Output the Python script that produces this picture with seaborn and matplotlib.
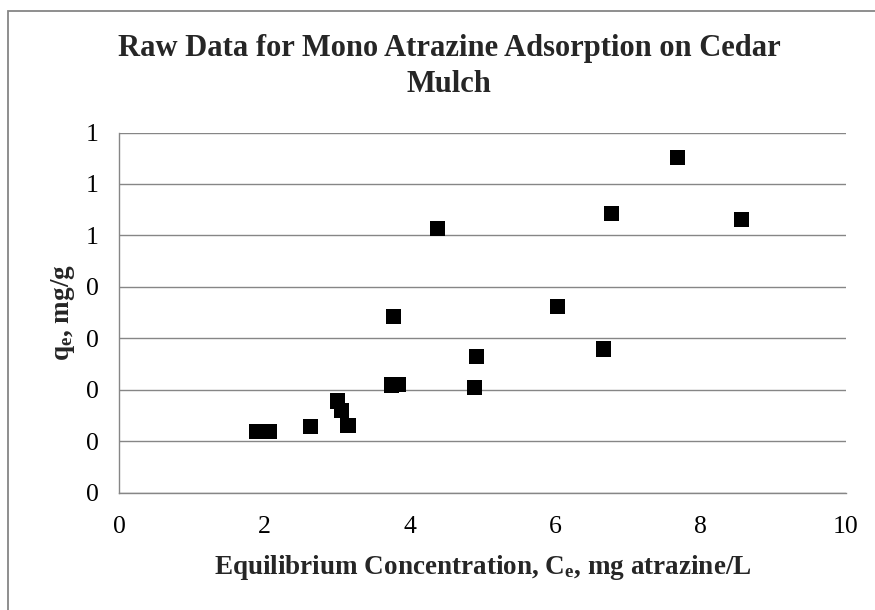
import numpy as np
import pandas as pd
import matplotlib
matplotlib.use('Agg')
import matplotlib.pyplot as plt
import seaborn as sns
from matplotlib.patches import Rectangle

# data
ce = [1.89, 2.07, 2.64, 3.00, 3.06, 3.15, 3.75, 3.84, 3.77, 4.38,
      4.89, 4.92, 6.03, 6.67, 6.78, 7.68, 8.56]
qe = [0.119, 0.118, 0.128, 0.178, 0.159, 0.130, 0.209, 0.210, 0.343, 0.514,
      0.205, 0.264, 0.361, 0.279, 0.543, 0.652, 0.531]
xticks = [0, 2, 4, 6, 8, 10]
yticks = [0.0, 0.1, 0.2, 0.3, 0.4, 0.5, 0.6, 0.7]
ytick_labels = ['0', '0', '0', '0', '0', '1', '1', '1']

df = pd.DataFrame({'Ce': ce, 'qe': qe})

sns.set_theme(style='white')
plt.rcParams['font.family'] = ['Liberation Serif', 'DejaVu Serif']
plt.rcParams['mathtext.default'] = 'regular'

grid_col = '#868686'

fig = plt.figure(figsize=(8.75, 6.1), dpi=100)
ax = fig.add_axes([119/875, 1 - 492.5/610, (846 - 119)/875, (492.5 - 132.5)/610])

sns.scatterplot(data=df, x='Ce', y='qe', ax=ax, marker='s', s=118,
                color='black', edgecolor='none', zorder=3)

ax.set_xlim(0, 10)
ax.set_ylim(0, 0.7)
ax.set_xticks(xticks)
ax.set_yticks(yticks)
ax.set_yticklabels(ytick_labels)
ax.yaxis.grid(True, color=grid_col, lw=1.0)
ax.xaxis.grid(False)
ax.set_axisbelow(True)

for s in ['top', 'right']:
    ax.spines[s].set_visible(False)
for s in ['left', 'bottom']:
    ax.spines[s].set_color(grid_col)
    ax.spines[s].set_linewidth(1.0)

ax.tick_params(axis='both', direction='out', length=5.8, width=1.0, color=grid_col,
               labelsize=18.5, labelcolor='black')
ax.tick_params(axis='x', pad=11)
ax.tick_params(axis='y', pad=9)

ax.set_xlabel('Equilibrium Concentration, C$_e$, mg atrazine/L',
              fontsize=19.5, fontweight='bold', labelpad=11)
ax.set_ylabel('q$_e$, mg/g', fontsize=19.5, fontweight='bold', labelpad=6)

fig.text(449/875, 1 - 34/610, 'Raw Data for Mono Atrazine Adsorption on Cedar\nMulch',
         ha='center', va='top', fontsize=22, fontweight='bold', linespacing=1.3)

# chart frame
fig.patches.append(Rectangle((7.5/875, -0.05), 1.2, 1 - 10.5/610 + 0.05,
                             transform=fig.transFigure, fill=False,
                             edgecolor=grid_col, lw=1.3))

fig.savefig('out.png', dpi=100)
